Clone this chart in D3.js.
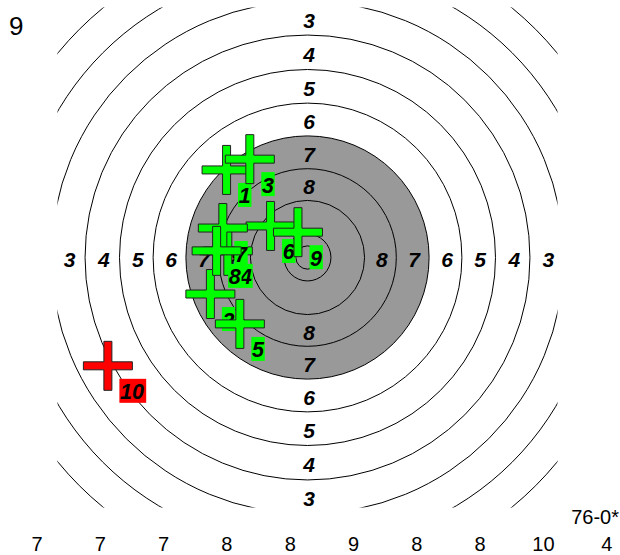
<!DOCTYPE html>
<html>
<head>
<meta charset="utf-8">
<script src="https://cdn.jsdelivr.net/npm/d3@7"></script>
<style>
  html, body { margin: 0; padding: 0; background: #fff; }
  svg { display: block; }
</style>
</head>
<body>
<div id="chart"></div>
<script>
// ---- data (target units in mm, y positive = up) ----
const ringScores = [1, 2, 3, 4, 5, 6, 7, 8, 9, 10];
const ringRadiiMM = [77.75, 69.75, 61.75, 53.6, 45.3, 37.2, 29.3, 21.4, 13.75, 5.65];
const innerTenMM = 2.8;
const labelledRings = [3, 4, 5, 6, 7, 8];

const shotNumbers = [1, 2, 3, 4, 5, 6, 7, 8, 9, 10];
const shotX = [-19.5, -23.4, -13.9, -19.2, -16.3, -8.9, -20.4, -21.9, -2.3, -48.1];
const shotY = [21.1, -8.8, 23.7, 1.6, -16.0, 7.6, 7.1, 1.6, 6.1, -26.1];
const shotScores = [7, 7, 7, 8, 8, 9, 8, 8, 10, 4];

const cornerLabel = "9";
const totalLabel = "76-0*";

// ---- layout ----
const W = 620, H = 555;
const cx = 307.5, cy = 257.5, half = 250;
const svg = d3.select("#chart").append("svg").attr("width", W).attr("height", H);
svg.append("rect").attr("width", W).attr("height", H).attr("fill", "#fff");

const x = d3.scaleLinear().domain([-60.24, 60.24]).range([cx - half, cx + half]);
const y = d3.scaleLinear().domain([-60.24, 60.24]).range([cy + half, cy - half]);
const r = d3.scaleLinear().domain([0, 60.24]).range([0, half]);

svg.append("clipPath").attr("id", "clip")
  .append("rect").attr("x", cx - half).attr("y", cy - half)
  .attr("width", 2 * half).attr("height", 2 * half);

const target = svg.append("g").attr("clip-path", "url(#clip)");

const rings = ringScores.map((s, i) => ({ score: s, rad: ringRadiiMM[i] }));
target.selectAll("circle.ring").data(rings).join("circle")
  .attr("class", "ring")
  .attr("cx", x(0)).attr("cy", y(0))
  .attr("r", d => r(d.rad))
  .attr("fill", d => d.score >= 7 ? "#999999" : "#ffffff")
  .attr("stroke", "#000").attr("stroke-width", 1);

target.append("circle").attr("cx", x(0)).attr("cy", y(0)).attr("r", r(innerTenMM))
  .attr("fill", "none").attr("stroke", "#000").attr("stroke-width", 1);

// ring labels
const lbl = [];
labelledRings.forEach(s => {
  const i = ringScores.indexOf(s);
  const m = (ringRadiiMM[i] + ringRadiiMM[i + 1]) / 2;
  [[m, 0], [-m, 0], [0, m], [0, -m]].forEach(p => lbl.push({ s, px: p[0], py: p[1] }));
});
target.selectAll("text.rl").data(lbl).join("text")
  .attr("class", "rl")
  .attr("x", d => x(d.px) + 1.5)
  .attr("y", d => y(d.py) + 2)
  .attr("dy", "0.36em")
  .attr("text-anchor", "middle")
  .attr("font-family", "Liberation Sans, Arial, sans-serif")
  .attr("font-weight", "bold").attr("font-style", "italic")
  .attr("font-size", 21)
  .attr("fill", "#000")
  .text(d => d.s);

// shots (each shot: cross then its number, in firing order)
const shots = shotNumbers.map((n, i) => ({ n, sx: shotX[i], sy: shotY[i], score: shotScores[i] }));
const col = d => d.score < 5 ? "#ff0000" : "#00ff00";
const L = 24.5, T = 4;
const plus = `M${-T},${-L}H${T}V${-T}H${L}V${T}H${T}V${L}H${-T}V${T}H${-L}V${-T}H${-T}Z`;

const sg = svg.selectAll("g.shot").data(shots).join("g")
  .attr("class", "shot")
  .attr("transform", d => `translate(${x(d.sx)},${y(d.sy)})`);
sg.append("path")
  .attr("d", plus)
  .attr("fill", col)
  .attr("stroke", "#222").attr("stroke-width", 1);
const lab = sg.append("g").attr("transform", "translate(11.5,13)");
lab.append("rect")
  .attr("width", d => String(d.n).length * 13.4)
  .attr("height", 24)
  .attr("fill", col);
lab.append("text")
  .attr("x", 0.6).attr("y", 20.5)
  .attr("font-family", "Liberation Sans, Arial, sans-serif")
  .attr("font-weight", "bold").attr("font-style", "italic")
  .attr("font-size", 21.5)
  .attr("fill", "#000")
  .text(d => d.n);

// texts
svg.append("text").attr("x", 9).attr("y", 35)
  .attr("font-family", "Liberation Sans, Arial, sans-serif").attr("font-size", 26)
  .text(cornerLabel);
svg.append("text").attr("x", 619).attr("y", 524).attr("text-anchor", "end")
  .attr("font-family", "Liberation Sans, Arial, sans-serif").attr("font-size", 20)
  .text(totalLabel);

const bx = d3.scalePoint().domain(shotNumbers).range([37, 606.7]);
svg.selectAll("text.bs").data(shots).join("text")
  .attr("class", "bs")
  .attr("x", d => bx(d.n)).attr("y", 551)
  .attr("text-anchor", "middle")
  .attr("font-family", "Liberation Sans, Arial, sans-serif").attr("font-size", 20)
  .text(d => d.score);
</script>
</body>
</html>
